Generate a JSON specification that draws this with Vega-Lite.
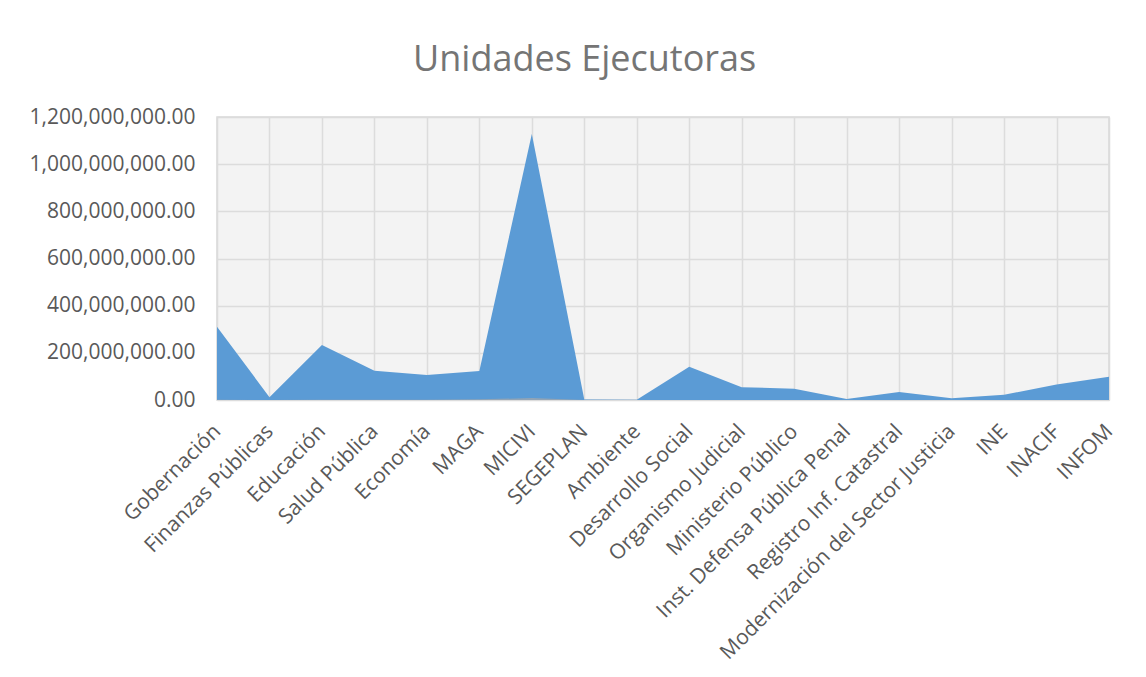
{
  "$schema": "https://vega.github.io/schema/vega-lite/v6.json",
  "width": 892,
  "height": 283,
  "padding": {"left": 29, "top": 42, "right": 36, "bottom": 5},
  "background": "white",
  "title": {
    "text": "Unidades Ejecutoras",
    "font": "Open Sans",
    "fontSize": 36,
    "fontWeight": "normal",
    "color": "#757575",
    "anchor": "middle",
    "frame": "bounds",
    "offset": 27,
    "dx": 12
  },
  "config": {
    "view": {"fill": "#f3f3f3", "stroke": "#d9d9d9", "strokeWidth": 1.5},
    "axis": {
      "labelFont": "Open Sans",
      "labelColor": "#595959",
      "gridColor": "#dcdcdc",
      "gridWidth": 1.5,
      "ticks": false,
      "domain": false,
      "title": null,
      "labelLimit": 0
    }
  },
  "data": {
    "values": [
      {"unidad": "Gobernación", "serie": "A", "valor": 311000000},
      {"unidad": "Finanzas Públicas", "serie": "A", "valor": 12000000},
      {"unidad": "Educación", "serie": "A", "valor": 233000000},
      {"unidad": "Salud Pública", "serie": "A", "valor": 124000000},
      {"unidad": "Economía", "serie": "A", "valor": 106000000},
      {"unidad": "MAGA", "serie": "A", "valor": 123000000},
      {"unidad": "MICIVI", "serie": "A", "valor": 1128000000},
      {"unidad": "SEGEPLAN", "serie": "A", "valor": 2000000},
      {"unidad": "Ambiente", "serie": "A", "valor": 1000000},
      {"unidad": "Desarrollo Social", "serie": "A", "valor": 141000000},
      {"unidad": "Organismo Judicial", "serie": "A", "valor": 54000000},
      {"unidad": "Ministerio Público", "serie": "A", "valor": 48000000},
      {"unidad": "Inst. Defensa Pública Penal", "serie": "A", "valor": 4000000},
      {"unidad": "Registro  Inf. Catastral", "serie": "A", "valor": 34000000},
      {"unidad": "Modernización del Sector Justicia", "serie": "A", "valor": 7000000},
      {"unidad": "INE", "serie": "A", "valor": 22000000},
      {"unidad": "INACIF", "serie": "A", "valor": 66000000},
      {"unidad": "INFOM", "serie": "A", "valor": 99000000},
      {"unidad": "Gobernación", "serie": "B", "valor": 1000000},
      {"unidad": "Finanzas Públicas", "serie": "B", "valor": 0},
      {"unidad": "Educación", "serie": "B", "valor": 1000000},
      {"unidad": "Salud Pública", "serie": "B", "valor": 1000000},
      {"unidad": "Economía", "serie": "B", "valor": 1000000},
      {"unidad": "MAGA", "serie": "B", "valor": 3000000},
      {"unidad": "MICIVI", "serie": "B", "valor": 8000000},
      {"unidad": "SEGEPLAN", "serie": "B", "valor": 0},
      {"unidad": "Ambiente", "serie": "B", "valor": 0},
      {"unidad": "Desarrollo Social", "serie": "B", "valor": 0},
      {"unidad": "Organismo Judicial", "serie": "B", "valor": 0},
      {"unidad": "Ministerio Público", "serie": "B", "valor": 0},
      {"unidad": "Inst. Defensa Pública Penal", "serie": "B", "valor": 0},
      {"unidad": "Registro  Inf. Catastral", "serie": "B", "valor": 0},
      {"unidad": "Modernización del Sector Justicia", "serie": "B", "valor": 0},
      {"unidad": "INE", "serie": "B", "valor": 0},
      {"unidad": "INACIF", "serie": "B", "valor": 0},
      {"unidad": "INFOM", "serie": "B", "valor": 0}
    ]
  },
  "mark": {"type": "area", "interpolate": "linear"},
  "encoding": {
    "x": {
      "field": "unidad",
      "type": "nominal",
      "sort": null,
      "scale": {"type": "point", "padding": 0},
      "axis": {
        "labelAngle": -45,
        "labelAlign": "right",
        "labelBaseline": "middle",
        "labelFontSize": 21,
        "labelPadding": 28,
        "grid": true,
        "labelOverlap": false
      }
    },
    "y": {
      "field": "valor",
      "type": "quantitative",
      "stack": null,
      "scale": {"domain": [0, 1200000000], "nice": false},
      "axis": {
        "values": [0, 200000000, 400000000, 600000000, 800000000, 1000000000, 1200000000],
        "format": ",.2f",
        "labelFontSize": 21,
        "labelPadding": 22,
        "grid": true
      }
    },
    "color": {
      "field": "serie",
      "type": "nominal",
      "scale": {"domain": ["A", "B"], "range": ["#5b9bd5", "#a8a8a8"]},
      "legend": null
    },
    "order": {"field": "serie", "type": "nominal"},
    "opacity": {
      "field": "serie",
      "type": "nominal",
      "scale": {"domain": ["A", "B"], "range": [1, 0.7]},
      "legend": null
    }
  }
}
